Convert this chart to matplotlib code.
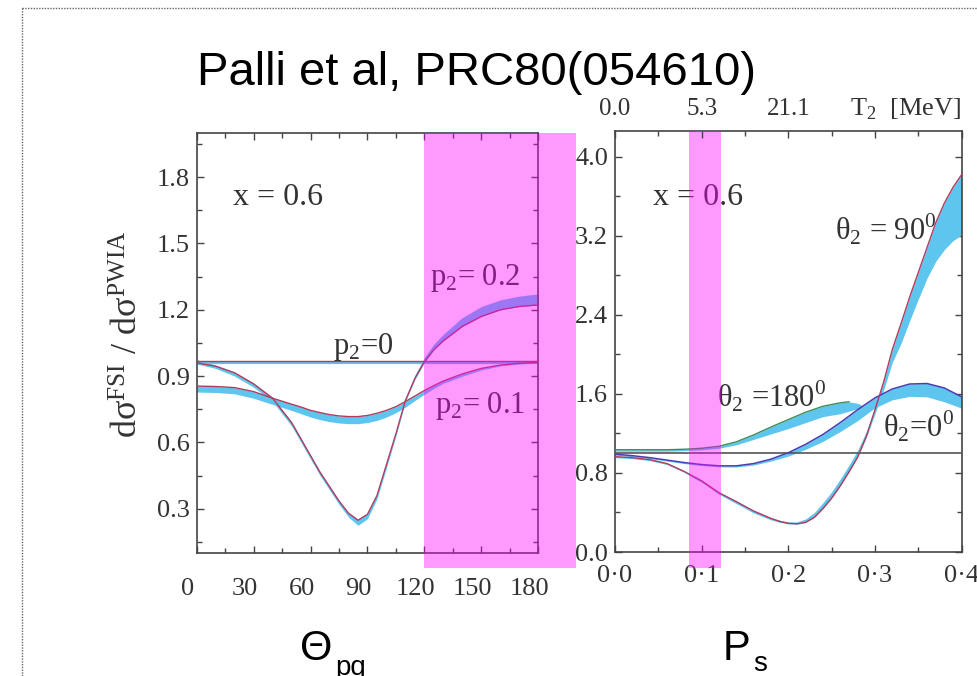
import matplotlib
matplotlib.use("Agg")
import matplotlib.pyplot as plt
from matplotlib.patches import Rectangle
from matplotlib.lines import Line2D
from matplotlib.transforms import blended_transform_factory, ScaledTranslation
from matplotlib.ticker import MultipleLocator, FormatStrFormatter, FuncFormatter

plt.rcParams['font.family'] = ['Liberation Serif', 'DejaVu Serif']

# ---- left panel: ratio vs theta_pq for three p2 values ----
theta = [0, 10, 20, 30, 40, 50, 55, 60, 65, 70, 75, 80, 85, 90, 95, 100,
         105, 110, 115, 120, 125, 130, 140, 150, 160, 170, 180]
p02_line = [0.960, 0.945, 0.915, 0.865, 0.800, 0.690, 0.615, 0.540, 0.465, 0.400,
            0.335, 0.280, 0.248, 0.275, 0.360, 0.500, 0.640, 0.790, 0.890, 0.965,
            1.020, 1.060, 1.125, 1.170, 1.200, 1.215, 1.222]
p02_lo = [0.955, 0.935, 0.900, 0.850, 0.785, 0.675, 0.600, 0.525, 0.450, 0.385,
          0.320, 0.262, 0.225, 0.255, 0.345, 0.485, 0.630, 0.785, 0.885, 0.962,
          1.020, 1.060, 1.125, 1.170, 1.200, 1.215, 1.222]
p02_hi = [0.975, 0.950, 0.918, 0.868, 0.803, 0.693, 0.618, 0.543, 0.468, 0.403,
          0.338, 0.283, 0.252, 0.280, 0.365, 0.505, 0.645, 0.800, 0.905, 0.985,
          1.045, 1.090, 1.165, 1.215, 1.245, 1.262, 1.272]
p01_line = [0.855, 0.853, 0.848, 0.830, 0.800, 0.773, 0.760, 0.745, 0.735, 0.726,
            0.720, 0.717, 0.717, 0.722, 0.732, 0.745, 0.762, 0.785, 0.810, 0.835,
            0.857, 0.878, 0.910, 0.935, 0.950, 0.958, 0.962]
p01_lo = [0.828, 0.826, 0.820, 0.800, 0.772, 0.745, 0.730, 0.715, 0.703, 0.694,
          0.688, 0.685, 0.685, 0.690, 0.700, 0.715, 0.735, 0.760, 0.790, 0.818,
          0.845, 0.868, 0.900, 0.928, 0.946, 0.955, 0.960]
p0_theta = [0, 180]
p0_line = [0.967, 0.967]
p0_band = [0.959, 0.959]
theta_cut = (120, 200)

# ---- right panel: ratio vs p_s for three theta2 values ----
ps = [0.00, 0.02, 0.04, 0.06, 0.08, 0.10, 0.12, 0.14, 0.16, 0.18, 0.19, 0.20,
      0.21, 0.22, 0.23, 0.24, 0.25, 0.26, 0.27, 0.28, 0.29, 0.30, 0.31, 0.32,
      0.33, 0.34, 0.35, 0.36, 0.37, 0.38, 0.39, 0.40]
t90_line = [0.965, 0.955, 0.935, 0.895, 0.815, 0.720, 0.600, 0.510, 0.415, 0.340,
            0.310, 0.290, 0.285, 0.300, 0.350, 0.440, 0.545, 0.670, 0.810, 0.960,
            1.170, 1.440, 1.720, 2.050, 2.310, 2.580, 2.830, 3.080, 3.330, 3.530,
            3.690, 3.820]
t90_lo = [0.955, 0.945, 0.925, 0.885, 0.805, 0.705, 0.585, 0.490, 0.395, 0.325,
          0.300, 0.285, 0.282, 0.300, 0.350, 0.440, 0.545, 0.670, 0.810, 0.960,
          1.160, 1.400, 1.640, 1.920, 2.110, 2.340, 2.560, 2.770, 2.940, 3.060,
          3.150, 3.210]
t90_hi = [0.970, 0.960, 0.940, 0.900, 0.820, 0.725, 0.605, 0.515, 0.420, 0.348,
          0.322, 0.305, 0.305, 0.335, 0.400, 0.500, 0.610, 0.740, 0.880, 1.030,
          1.220, 1.460, 1.720, 2.050, 2.310, 2.580, 2.830, 3.080, 3.330, 3.530,
          3.690, 3.820]

ps0 = [0.00, 0.02, 0.04, 0.06, 0.08, 0.10, 0.12, 0.14, 0.16, 0.18, 0.20,
       0.22, 0.24, 0.26, 0.28, 0.30, 0.32, 0.34, 0.36, 0.38, 0.40]
t0_line = [0.990, 0.975, 0.955, 0.930, 0.905, 0.885, 0.872, 0.872, 0.895, 0.940,
           1.005, 1.090, 1.190, 1.310, 1.440, 1.560, 1.650, 1.700, 1.705, 1.660, 1.570]
t0_lo = [0.980, 0.965, 0.945, 0.920, 0.895, 0.875, 0.862, 0.860, 0.880, 0.920,
         0.970, 1.040, 1.120, 1.220, 1.330, 1.460, 1.540, 1.575, 1.570, 1.520, 1.455]

ps180 = [0.00, 0.02, 0.04, 0.06, 0.08, 0.10, 0.12, 0.14, 0.16, 0.18, 0.20,
         0.22, 0.24, 0.26, 0.27]
t180_line = [1.035, 1.035, 1.035, 1.035, 1.040, 1.050, 1.070, 1.115, 1.185, 1.265,
             1.340, 1.415, 1.475, 1.510, 1.520]
ps180_band = ps180 + [0.28, 0.286]
t180_lo = [1.020, 1.020, 1.020, 1.020, 1.025, 1.035, 1.050, 1.085, 1.140, 1.195,
           1.250, 1.310, 1.370, 1.400, 1.425, 1.450, 1.475]
t180_hi = t180_line + [1.505, 1.480]

ref_p = [0.0, 0.4]
ref_val = [1.0, 1.0]
ps_cut = (0.085, 0.122)

top_ticks = [0.0, 0.1, 0.2, 0.3, 0.4]
top_labels = ['0.0', '5.3', '21.1', '', '']

BAND = '#5ec6ee'
RED = '#b03c5e'
BLUE = '#4b3cb0'
GREEN = '#3f8c55'
INK = '#333333'
SPINE = '#444444'
PINK = '#ff00ff'

fig = plt.figure(figsize=(9.78, 6.76), dpi=100)
ax1 = fig.add_axes([0.2011, 0.1820, 0.3493, 0.6213])
ax2 = fig.add_axes([0.6288, 0.1834, 0.3545, 0.6228])


def style_axes(ax, xpad, ypad):
    for s in ax.spines.values():
        s.set_color(SPINE)
        s.set_linewidth(1.2)
    ax.tick_params(which='both', direction='in', top=True, right=True,
                   color=SPINE, width=1.0, labelcolor=INK, labelsize=19)
    ax.tick_params(which='major', length=5)
    ax.tick_params(which='minor', length=3.5)
    ax.tick_params(axis='x', pad=xpad)
    ax.tick_params(axis='y', pad=ypad)


# left panel
ax1.fill_between(theta, p02_lo, p02_hi, color=BAND, lw=0, zorder=2)
ax1.fill_between(theta, p01_lo, p01_line, color=BAND, lw=0, zorder=2)
ax1.plot(p0_theta, p0_band, color=BAND, lw=1.6, zorder=2)
ax1.plot(theta, p02_line, color=RED, lw=1.0, zorder=3)
ax1.plot(theta, p01_line, color=RED, lw=1.0, zorder=3)
ax1.plot(p0_theta, p0_line, color=RED, lw=1.0, zorder=3)

ax1.set_xlim(0, 180)
ax1.set_ylim(0.1, 2.0)
ax1.xaxis.set_major_locator(MultipleLocator(30))
ax1.xaxis.set_minor_locator(MultipleLocator(15))
ax1.yaxis.set_major_locator(MultipleLocator(0.3))
ax1.yaxis.set_minor_locator(MultipleLocator(0.15))
ax1.yaxis.set_major_formatter(FormatStrFormatter('%.1f'))
style_axes(ax1, 18, 5)
shift = ScaledTranslation(-0.09, 0, fig.dpi_scale_trans)
for lbl in ax1.get_xticklabels():
    lbl.set_transform(lbl.get_transform() + shift)

ax1.text(19, 1.71, 'x = 0.6', fontsize=23, color=INK, va='center')
ax1.text(123, 1.31, r'p$_{\mathregular{2}}$= 0.2', fontsize=22, color=INK, va='baseline')
ax1.text(125.5, 0.735, r'p$_{\mathregular{2}}$= 0.1', fontsize=22, color=INK, va='baseline')
ax1.text(72, 1.0, r'p$_{\mathregular{2}}$=0', fontsize=22, color=INK, va='baseline')

ax1.set_ylabel(r'dσ$\mathregular{^{FSI}}$ / dσ$\mathregular{^{PWIA}}$',
               fontsize=26, color=INK)
ax1.yaxis.set_label_coords(-0.15, 0.52)

tr1 = blended_transform_factory(ax1.transData, ax1.transAxes)
ax1.add_patch(Rectangle((theta_cut[0], -0.036), theta_cut[1] - theta_cut[0], 1.036,
                        transform=tr1, facecolor=PINK, alpha=0.4, lw=0,
                        zorder=10, clip_on=False))
ax1.set_xlim(0, 180)
ax1.set_ylim(0.1, 2.0)

# right panel
ax2.fill_between(ps, t90_lo, t90_hi, color=BAND, lw=0, zorder=2)
ax2.fill_between(ps0, t0_lo, t0_line, color=BAND, lw=0, zorder=2)
ax2.fill_between(ps180_band, t180_lo, t180_hi, color=BAND, lw=0, zorder=2)
ax2.plot(ref_p, ref_val, color='#555555', lw=1.2, zorder=3)
ax2.plot(ps180, t180_line, color=GREEN, lw=1.0, zorder=3)
ax2.plot(ps0, t0_line, color=BLUE, lw=1.1, zorder=3)
ax2.plot(ps, t90_line, color=RED, lw=1.0, zorder=3)

ax2.set_xlim(0, 0.4)
ax2.set_ylim(0, 4.26)
ax2.xaxis.set_major_locator(MultipleLocator(0.1))
ax2.xaxis.set_minor_locator(MultipleLocator(0.05))
ax2.yaxis.set_major_locator(MultipleLocator(0.8))
ax2.yaxis.set_minor_locator(MultipleLocator(0.4))
ax2.yaxis.set_major_formatter(FormatStrFormatter('%.1f'))
ax2.xaxis.set_major_formatter(FuncFormatter(lambda v, _: f'{v:.1f}'.replace('.', '\u00b7')))
style_axes(ax2, 9, 5)
ax2.tick_params(top=False, which='both')

# kinetic energy scale along the top
axt = ax2.twiny()
axt.set_xlim(0, 0.4)
axt.set_xticks(top_ticks)
axt.set_xticklabels(top_labels)
axt.xaxis.set_minor_locator(MultipleLocator(0.05))
axt.tick_params(which='both', direction='in', color=SPINE, width=1.0,
                labelcolor=INK, labelsize=18, pad=8)
axt.tick_params(which='major', length=5)
axt.tick_params(which='minor', length=3.5)
for s in axt.spines.values():
    s.set_visible(False)
axt.text(1.0, 1.038, r'T$_{\mathregular{2}}$  [MeV]', transform=axt.transAxes,
         fontsize=19, color=INK, ha='right', va='baseline')

ax2.text(0.044, 3.51, 'x = 0.6', fontsize=23, color=INK, va='baseline')
ax2.text(0.254, 3.16, r'θ$_{\mathregular{2}}$ = 90$^{\mathregular{0}}$', fontsize=22,
         color=INK, va='baseline')
ax2.text(0.118, 1.47, r'θ$_{\mathregular{2}}$ =180$^{\mathregular{0}}$', fontsize=22,
         color=INK, va='baseline')
ax2.text(0.309, 1.168, r'θ$_{\mathregular{2}}$=0$^{\mathregular{0}}$', fontsize=22,
         color=INK, va='baseline')

tr2 = blended_transform_factory(ax2.transData, ax2.transAxes)
ax2.add_patch(Rectangle((ps_cut[0], -0.038), ps_cut[1] - ps_cut[0], 1.038,
                        transform=tr2, facecolor=PINK, alpha=0.4, lw=0,
                        zorder=10, clip_on=False))
ax2.set_xlim(0, 0.4)
ax2.set_ylim(0, 4.26)

# slide title and axis names (subscripts hang below the baseline)
fig.text(0.2014, 0.874, 'Palli et al, PRC80(054610)', family='Liberation Sans',
         fontsize=34, color='black', va='baseline')
fig.text(0.3067, 0.0237, 'Θ', family='Liberation Sans',
         fontsize=30, color='black', va='baseline')
fig.text(0.3425, 0.002, 'pq', family='Liberation Sans',
         fontsize=20, color='black', va='baseline')
fig.text(0.739, 0.0237, 'P', family='Liberation Sans',
         fontsize=30, color='black', va='baseline')
fig.text(0.770, 0.007, 's', family='Liberation Sans',
         fontsize=20, color='black', va='baseline')

# dotted frame of the slide placeholder
fig.add_artist(Line2D([0.0225, 0.0225], [0.0, 0.988], transform=fig.transFigure,
                      color='#666666', lw=1.0, ls=(0, (1, 1))))
fig.add_artist(Line2D([0.0225, 1.0], [0.988, 0.988], transform=fig.transFigure,
                      color='#666666', lw=1.0, ls=(0, (1, 1))))

fig.savefig('out.png', dpi=100)
